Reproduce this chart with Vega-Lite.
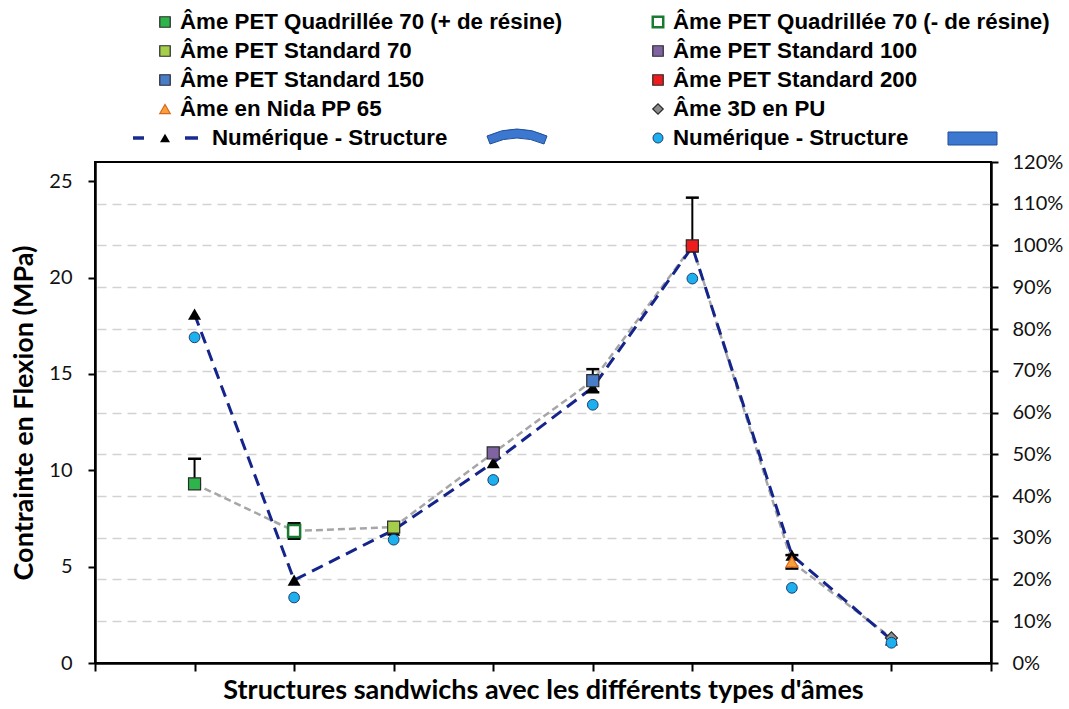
{
  "$schema": "https://vega.github.io/schema/vega-lite/v6.json",
  "background": "white",
  "padding": {"left": 9, "top": 0, "right": 5, "bottom": 2},
  "spacing": 0,
  "bounds": "flush",
  "config": {
    "view": {"stroke": null},
    "font": "Lato",
    "axis": {"labelFont": "Lato", "titleFont": "Lato"}
  },
  "resolve": {"scale": {"shape": "independent", "fill": "independent", "stroke": "independent"}},
  "datasets": {
    "cores": [
      {"idx": 1, "core": "Âme PET Quadrillée 70 (+ de résine)", "exp": 9.3, "err_lo": 9.3, "err_hi": 10.6, "num_curved": 18.1, "num_flat": 16.9},
      {"idx": 2, "core": "Âme PET Quadrillée 70 (- de résine)", "exp": 6.85, "err_lo": 6.45, "err_hi": 7.25, "num_curved": 4.3, "num_flat": 3.4},
      {"idx": 3, "core": "Âme PET Standard 70", "exp": 7.05, "err_lo": null, "err_hi": null, "num_curved": 6.9, "num_flat": 6.4},
      {"idx": 4, "core": "Âme PET Standard 100", "exp": 10.9, "err_lo": null, "err_hi": null, "num_curved": 10.4, "num_flat": 9.5},
      {"idx": 5, "core": "Âme PET Standard 150", "exp": 14.65, "err_lo": 14.05, "err_hi": 15.25, "num_curved": 14.3, "num_flat": 13.4},
      {"idx": 6, "core": "Âme PET Standard 200", "exp": 21.65, "err_lo": 21.65, "err_hi": 24.15, "num_curved": 21.6, "num_flat": 19.95},
      {"idx": 7, "core": "Âme en Nida PP 65", "exp": 5.25, "err_lo": 4.9, "err_hi": 5.6, "num_curved": 5.6, "num_flat": 3.9},
      {"idx": 8, "core": "Âme 3D en PU", "exp": 1.3, "err_lo": null, "err_hi": null, "num_curved": 1.2, "num_flat": 1.05}
    ],
    "legend": [
      {"core": "Âme PET Quadrillée 70 (+ de résine)", "col": 1, "row": 1, "kind": "exp"},
      {"core": "Âme PET Quadrillée 70 (- de résine)", "col": 2, "row": 1, "kind": "exp"},
      {"core": "Âme PET Standard 70", "col": 1, "row": 2, "kind": "exp"},
      {"core": "Âme PET Standard 100", "col": 2, "row": 2, "kind": "exp"},
      {"core": "Âme PET Standard 150", "col": 1, "row": 3, "kind": "exp"},
      {"core": "Âme PET Standard 200", "col": 2, "row": 3, "kind": "exp"},
      {"core": "Âme en Nida PP 65", "col": 1, "row": 4, "kind": "exp"},
      {"core": "Âme 3D en PU", "col": 2, "row": 4, "kind": "exp"},
      {"core": "Numérique - Structure", "col": 1, "row": 5, "kind": "curved"},
      {"core": "Numérique - Structure", "col": 2, "row": 5, "kind": "flat"}
    ]
  },
  "vconcat": [
    {
      "width": 896,
      "height": 162,
      "view": {"stroke": null},
      "data": {"name": "legend"},
      "encoding": {
        "x": {"field": "col", "type": "quantitative", "scale": {"domain": [1, 2], "range": [70, 563]}, "axis": null},
        "y": {"field": "row", "type": "quantitative", "scale": {"domain": [1, 5], "range": [22, 138]}, "axis": null}
      },
      "layer": [
        {
          "transform": [{"filter": "datum.kind === 'exp'"}],
          "mark": {"type": "point", "filled": true, "size": 110, "opacity": 1},
          "encoding": {
            "shape": {"field": "core", "type": "nominal", "legend": null, "scale": {
              "domain": ["Âme PET Quadrillée 70 (+ de résine)", "Âme PET Quadrillée 70 (- de résine)", "Âme PET Standard 70", "Âme PET Standard 100", "Âme PET Standard 150", "Âme PET Standard 200", "Âme en Nida PP 65", "Âme 3D en PU"],
              "range": ["square", "square", "square", "square", "square", "square", "triangle-up", "diamond"]}},
            "fill": {"field": "core", "type": "nominal", "legend": null, "scale": {
              "domain": ["Âme PET Quadrillée 70 (+ de résine)", "Âme PET Quadrillée 70 (- de résine)", "Âme PET Standard 70", "Âme PET Standard 100", "Âme PET Standard 150", "Âme PET Standard 200", "Âme en Nida PP 65", "Âme 3D en PU"],
              "range": ["#2DB54B", "#FFFFFF", "#A5CF4A", "#8064A2", "#4A7DC8", "#EE1C1C", "#F7A03A", "#8C8C8C"]}},
            "stroke": {"field": "core", "type": "nominal", "legend": null, "scale": {
              "domain": ["Âme PET Quadrillée 70 (+ de résine)", "Âme PET Quadrillée 70 (- de résine)", "Âme PET Standard 70", "Âme PET Standard 100", "Âme PET Standard 150", "Âme PET Standard 200", "Âme en Nida PP 65", "Âme 3D en PU"],
              "range": ["#2A2A2A", "#1B7A31", "#2A2A2A", "#2A2A2A", "#2A2A2A", "#2A2A2A", "#D9661F", "#2A2A2A"]}},
            "strokeWidth": {"condition": {"test": "datum.core === 'Âme PET Quadrillée 70 (- de résine)'", "value": 2.5}, "value": 1.2}
          }
        },
        {
          "transform": [{"filter": "datum.kind === 'flat'"}],
          "mark": {"type": "point", "shape": "circle", "filled": true, "size": 100, "fill": "#1CB0EE", "stroke": "#1F3E6E", "strokeWidth": 1, "opacity": 1}
        },
        {
          "transform": [{"filter": "datum.kind === 'curved'"}],
          "mark": {"type": "point", "shape": "M -3.2 -0.18 H -2.1 V 0.18 H -3.2 Z M 2.0 -0.18 H 3.3 V 0.18 H 2.0 Z", "filled": true, "size": 400, "fill": "#1A2B8F", "strokeWidth": 0, "opacity": 1}
        },
        {
          "transform": [{"filter": "datum.kind === 'curved'"}],
          "mark": {"type": "point", "shape": "triangle-up", "filled": true, "size": 100, "fill": "black", "strokeWidth": 0, "opacity": 1}
        },
        {
          "transform": [{"filter": "datum.kind === 'curved'"}],
          "mark": {"type": "point", "shape": "M 32.2 -0.2 Q 35.2 -1.6 38.2 -0.2 L 37.9 0.6 Q 35.2 -0.6 32.5 0.6 Z", "filled": true, "size": 400, "fill": "#3C78D0", "stroke": "#1F4F9A", "strokeWidth": 1, "opacity": 1}
        },
        {
          "transform": [{"filter": "datum.kind === 'flat'"}],
          "mark": {"type": "point", "shape": "M 29 -0.6 H 33.9 V 0.7 H 29 Z", "filled": true, "size": 400, "fill": "#3C78D0", "stroke": "#1F4F9A", "strokeWidth": 1, "opacity": 1}
        },
        {
          "transform": [{"filter": "datum.kind !== 'curved'"}],
          "mark": {"type": "text", "align": "left", "baseline": "middle", "dx": 15, "font": "Liberation Sans", "fontSize": 22.3, "fontWeight": "bold", "color": "black"},
          "encoding": {"text": {"field": "core"}}
        },
        {
          "transform": [{"filter": "datum.kind === 'curved'"}],
          "mark": {"type": "text", "align": "left", "baseline": "middle", "dx": 47, "font": "Liberation Sans", "fontSize": 22.3, "fontWeight": "bold", "color": "black"},
          "encoding": {"text": {"field": "core"}}
        }
      ]
    },
    {
      "width": 896,
      "height": 501,
      "view": {"stroke": "black", "strokeWidth": 2},
      "data": {"name": "cores"},
      "encoding": {
        "x": {"field": "idx", "type": "quantitative", "title": "Structures sandwichs avec les différents types d'âmes",
          "scale": {"domain": [0, 9], "nice": false},
          "axis": {"values": [0, 1, 2, 3, 4, 5, 6, 7, 8, 9], "labels": false, "grid": false, "tickSize": 8, "tickWidth": 2, "tickColor": "black", "domainColor": "black", "domainWidth": 2.5, "titleFontSize": 27, "titleFontWeight": "bold", "titleColor": "black", "titlePadding": 5}}
      },
      "layer": [
        {
          "encoding": {
            "y": {"field": "exp", "type": "quantitative", "title": "Contrainte en Flexion (MPa)",
              "scale": {"domain": [0, 26], "nice": false},
              "axis": {"values": [0, 5, 10, 15, 20, 25], "grid": false, "domainColor": "black", "domainWidth": 2.5, "tickColor": "black", "tickWidth": 2, "tickSize": 7, "labelPadding": 16, "labelFontSize": 20, "labelColor": "#111111", "titleFontSize": 27, "titleFontWeight": "bold", "titleColor": "black", "titlePadding": 10}}
          },
          "layer": [
            {
              "mark": {"type": "line", "color": "#A6A6A6", "strokeWidth": 2.5, "strokeDash": [7, 4]}
            },
            {
              "mark": {"type": "line", "color": "#14248A", "strokeWidth": 3, "strokeDash": [12, 7]},
              "encoding": {"y": {"field": "num_curved", "type": "quantitative", "title": "Contrainte en Flexion (MPa)"}}
            },
            {
              "transform": [{"filter": "datum.err_hi != null"}],
              "mark": {"type": "rule", "color": "black", "strokeWidth": 2},
              "encoding": {"y": {"field": "err_lo", "type": "quantitative", "title": "Contrainte en Flexion (MPa)"}, "y2": {"field": "err_hi"}}
            },
            {
              "transform": [{"filter": "datum.err_hi != null"}],
              "mark": {"type": "tick", "orient": "horizontal", "color": "black", "size": 13, "thickness": 2.5, "opacity": 1},
              "encoding": {"y": {"field": "err_hi", "type": "quantitative", "title": "Contrainte en Flexion (MPa)"}}
            },
            {
              "transform": [{"filter": "datum.err_hi != null"}],
              "mark": {"type": "tick", "orient": "horizontal", "color": "black", "size": 13, "thickness": 2.5, "opacity": 1},
              "encoding": {"y": {"field": "err_lo", "type": "quantitative", "title": "Contrainte en Flexion (MPa)"}}
            },
            {
              "mark": {"type": "point", "shape": "triangle-up", "filled": true, "size": 170, "fill": "black", "strokeWidth": 0, "opacity": 1},
              "encoding": {"y": {"field": "num_curved", "type": "quantitative", "title": "Contrainte en Flexion (MPa)"}}
            },
            {
              "mark": {"type": "point", "filled": true, "size": 145, "opacity": 1},
              "encoding": {
                "shape": {"field": "core", "type": "nominal", "legend": null, "scale": {
                  "domain": ["Âme PET Quadrillée 70 (+ de résine)", "Âme PET Quadrillée 70 (- de résine)", "Âme PET Standard 70", "Âme PET Standard 100", "Âme PET Standard 150", "Âme PET Standard 200", "Âme en Nida PP 65", "Âme 3D en PU"],
                  "range": ["square", "square", "square", "square", "square", "square", "triangle-up", "diamond"]}},
                "fill": {"field": "core", "type": "nominal", "legend": null, "scale": {
                  "domain": ["Âme PET Quadrillée 70 (+ de résine)", "Âme PET Quadrillée 70 (- de résine)", "Âme PET Standard 70", "Âme PET Standard 100", "Âme PET Standard 150", "Âme PET Standard 200", "Âme en Nida PP 65", "Âme 3D en PU"],
                  "range": ["#2DB54B", "#FFFFFF", "#A5CF4A", "#8064A2", "#4A7DC8", "#EE1C1C", "#F7A03A", "#8C8C8C"]}},
                "stroke": {"field": "core", "type": "nominal", "legend": null, "scale": {
                  "domain": ["Âme PET Quadrillée 70 (+ de résine)", "Âme PET Quadrillée 70 (- de résine)", "Âme PET Standard 70", "Âme PET Standard 100", "Âme PET Standard 150", "Âme PET Standard 200", "Âme en Nida PP 65", "Âme 3D en PU"],
                  "range": ["#2A2A2A", "#1B7A31", "#2A2A2A", "#2A2A2A", "#2A2A2A", "#2A2A2A", "#D9661F", "#2A2A2A"]}},
                "strokeWidth": {"condition": {"test": "datum.core === 'Âme PET Quadrillée 70 (- de résine)'", "value": 2.5}, "value": 1.2}
              }
            },
            {
              "mark": {"type": "point", "shape": "circle", "filled": true, "size": 115, "fill": "#1CB0EE", "stroke": "#1F3E6E", "strokeWidth": 1, "opacity": 1},
              "encoding": {"y": {"field": "num_flat", "type": "quantitative", "title": "Contrainte en Flexion (MPa)"}}
            }
          ]
        },
        {
          "mark": {"type": "point", "opacity": 0},
          "encoding": {
            "y": {"datum": 0, "type": "quantitative",
              "scale": {"domain": [0, 1.2], "nice": false},
              "axis": {"orient": "right", "title": null, "format": ".0%", "values": [0, 0.1, 0.2, 0.3, 0.4, 0.5, 0.6, 0.7, 0.8, 0.9, 1.0, 1.1, 1.2], "grid": true, "gridColor": "#D2D2D2", "gridDash": [9, 6], "gridWidth": 1.5, "gridOpacity": {"condition": {"test": "datum.value > 1.15 || datum.value < 0.05", "value": 0}, "value": 1}, "domainColor": "black", "domainWidth": 2.5, "tickColor": "black", "tickWidth": 2, "tickSize": 7, "labelPadding": 14, "labelFontSize": 20, "labelColor": "#111111"}}
          }
        }
      ],
      "resolve": {"scale": {"y": "independent"}}
    }
  ]
}
